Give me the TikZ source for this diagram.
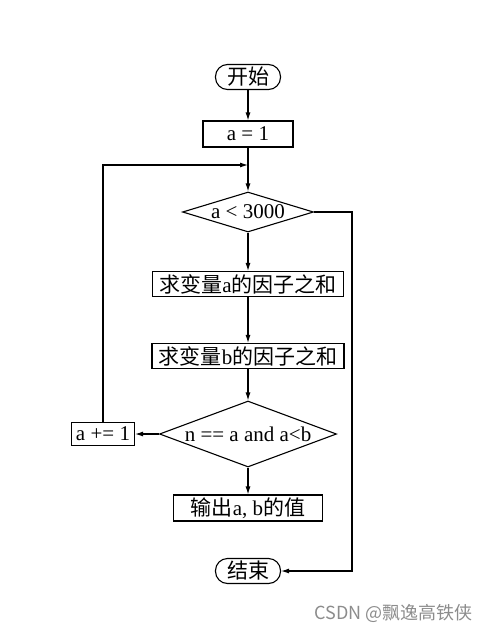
\documentclass[tikz,border=0pt]{standalone}
\usepackage{fontspec}
\setmainfont{Liberation Serif}
\newfontfamily\cjk{Noto Sans CJK SC}
\usetikzlibrary{shapes.geometric,arrows.meta}

\tikzset{
  line/.style={line width=1.1pt},
  arr/.style={line,-{Latex[length=8pt,width=5pt]}},
  box/.style={draw,line,minimum height=25pt,inner sep=0pt},
  term/.style={box,rounded corners=12pt,minimum width=65pt},
  cond/.style={draw,line,diamond,inner sep=0pt}
}

\begin{document}
\begin{tikzpicture}[x=1pt,y=-1pt,font=\fontsize{21}{24}\selectfont]
\useasboundingbox (0,0) rectangle (498,634);

\node[term] (start) at (248,77) {\cjk 开始};
\node[box,minimum width=90pt,minimum height=26pt] (init) at (248,134) {a = 1};
\node[cond,shape aspect=3.275,minimum width=131pt,minimum height=40pt] (loop) at (248,212) {a < 3000};
\node[box,minimum width=191pt] (suma) at (248,284) {{\cjk 求变量}a{\cjk 的因子之和}};
\node[box,minimum width=192pt] (sumb) at (248,356) {{\cjk 求变量}b{\cjk 的因子之和}};
\node[cond,shape aspect=2.68,minimum width=177pt,minimum height=66pt] (check) at (248,434) {n == a and a<b};
\node[box,minimum width=63pt,minimum height=23pt] (incr) at (103,434) {a += 1};
\node[box,minimum width=149pt,minimum height=26pt] (out) at (248,508) {{\cjk 输出}a, b{\cjk 的值}};
\node[term] (stop) at (248,571) {\cjk 结束};
\node[anchor=west,text=black!45,font=\cjk\fontsize{18}{20}\selectfont] (mark) at (311,613) {CSDN @飘逸高铁侠};

\coordinate (join) at (248,165);
\coordinate (rt) at (352,212);

\draw[arr] (start) -- (init);
\draw[arr] (init) -- (loop);
\draw[arr] (loop) -- (suma);
\draw[arr] (suma) -- (sumb);
\draw[arr] (sumb) -- (check);
\draw[arr] (check) -- (incr);
\draw[arr] (check) -- (out);
\draw[arr] (incr.north) |- (join);
\draw[arr] (loop.east) -- (rt) |- (stop.east);
\end{tikzpicture}
\end{document}
